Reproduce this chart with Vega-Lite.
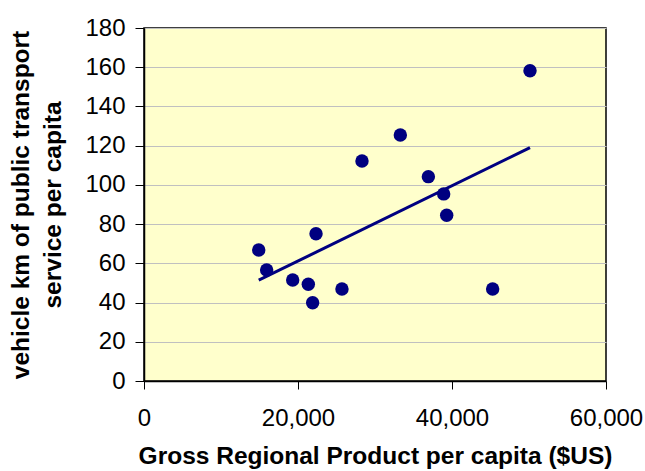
{
  "$schema": "https://vega.github.io/schema/vega-lite/v6.json",
  "width": 462,
  "height": 353,
  "autosize": "none",
  "padding": {"left": 144, "top": 28, "right": 39, "bottom": 90},
  "background": "white",
  "config": {
    "font": "Liberation Sans",
    "view": {"fill": "#FFFFCC", "stroke": "black", "strokeWidth": 1.5}
  },
  "data": {
    "values": [
      {"gdp": 14900, "vkm": 66.8},
      {"gdp": 15930, "vkm": 56.6},
      {"gdp": 19310, "vkm": 51.5},
      {"gdp": 21340, "vkm": 49.3},
      {"gdp": 21900, "vkm": 39.9},
      {"gdp": 22340, "vkm": 75.1},
      {"gdp": 25710, "vkm": 46.9},
      {"gdp": 28310, "vkm": 112.2},
      {"gdp": 33290, "vkm": 125.4},
      {"gdp": 36930, "vkm": 104.2},
      {"gdp": 38920, "vkm": 95.4},
      {"gdp": 39310, "vkm": 84.5},
      {"gdp": 45280, "vkm": 46.9},
      {"gdp": 50130, "vkm": 158.2}
    ]
  },
  "encoding": {
    "x": {
      "field": "gdp", "type": "quantitative",
      "scale": {"domain": [0, 60000], "nice": false, "zero": true},
      "axis": {
        "title": "Gross Regional Product per capita ($US)",
        "titleFontSize": 24.5, "titleFontWeight": "bold", "titleColor": "black",
        "titlePadding": 14,
        "labelFontSize": 24, "labelColor": "black", "labelPadding": 17,
        "labelFlush": false, "labelOverlap": false,
        "labelExpr": "format(datum.value, ',')",
        "values": [0, 20000, 40000, 60000],
        "grid": false, "tickSize": 8, "tickColor": "black", "tickWidth": 1,
        "domainColor": "black", "domainWidth": 1.5
      }
    },
    "y": {
      "field": "vkm", "type": "quantitative",
      "scale": {"domain": [0, 180], "nice": false},
      "axis": {
        "title": ["vehicle km of public transport", "service per capita"],
        "titleFontSize": 24.5, "titleFontWeight": "bold", "titleColor": "black",
        "titleLineHeight": 32, "titlePadding": 19,
        "labelFontSize": 24, "labelColor": "black", "labelPadding": 10,
        "labelOverlap": false,
        "values": [0, 20, 40, 60, 80, 100, 120, 140, 160, 180],
        "grid": true, "gridColor": "#C0C0C0", "gridWidth": 1,
        "tickSize": 9, "tickColor": "black", "tickWidth": 1,
        "domainColor": "black", "domainWidth": 1.5
      }
    }
  },
  "layer": [
    {
      "mark": {"type": "point", "filled": true, "size": 180, "color": "#000080", "opacity": 1}
    },
    {
      "transform": [{"regression": "vkm", "on": "gdp"}],
      "mark": {"type": "line", "color": "#000080", "strokeWidth": 3}
    }
  ]
}
